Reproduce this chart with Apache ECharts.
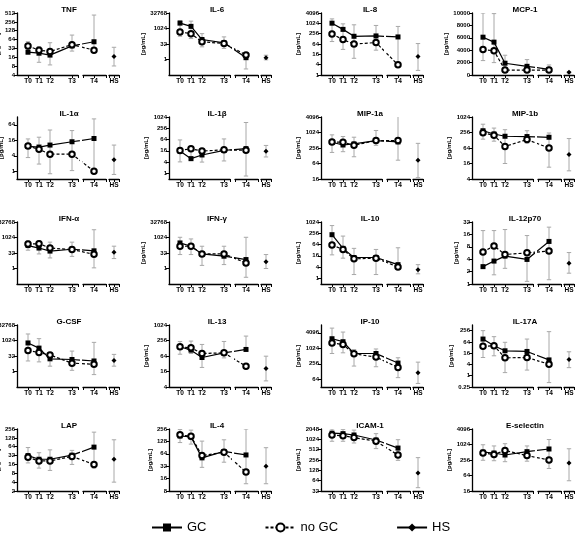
<!DOCTYPE html>
<html><head><meta charset="utf-8">
<script src="https://cdn.jsdelivr.net/npm/echarts@6/dist/echarts.min.js"></script>
<style>html,body{margin:0;padding:0;background:#fff}#c{width:576px;height:546px}</style>
</head><body><div id="c"></div>
<script>
// ---------- data ----------
const panelNames = ['TNF','IL-6','IL-8','MCP-1','IL-1\u03b1','IL-1\u03b2','MIP-1a','MIP-1b',
  'IFN-\u03b1','IFN-\u03b3','IL-10','IL-12p70','G-CSF','IL-13','IP-10','IL-17A',
  'LAP','IL-4','ICAM-1','E-selectin'];
const timeLabels = ['T0','T1','T2','T3','T4'];
const timeSpacing = [1, 2, 3, 5, 7];   // relative sampling positions on the time axis
const hsLabel = 'HS';

const gcValues = [
  [24,22,19,39,54], [3400,1650,87,42,1.5], [1045,455,180,189,165], [6100,5300,1900,1400,900],
  [9.3,8.7,10.4,14,18.7], [15.5,6.1,9.6,16.8,21], [427,335,368,497,440], [300,224,183,178,167],
  [169,97,49,74,52], [304,145,26,15.6,7.4], [215,40,13,13,5.4], [2.64,3.6,4.75,3.95,10.8],
  [590,187,17,14.6,10.5], [146,108,56,85,115], [2400,1840,640,640,272], [91,40,21.5,19.8,7],
  [32,24,24,33,62], [173,165,51,73,60], [1550,1500,1370,980,570], [520,478,400,540,685]
];
const noGcValues = [
  [39,28,25,43,28], [468,324,52,36,2.8], [245,116,63,78,3.9], [4100,3900,800,800,800],
  [9.5,7.1,4.6,4.6,1.0], [16.8,20.5,15.5,18,17], [440,427,326,497,497], [252,199,74,136,64],
  [239,256,97,69,24], [145,145,26,26,3.5], [60,35,11,12,4], [6,8.4,5.2,5.7,6.3],
  [110,69,40,6.5,5], [146,133,80,85,25.6], [1640,1420,620,463,185], [37,40,9,9.4,4.1],
  [28,21,21,30,16], [185,170,58,70,23], [1370,1300,1150,900,357], [478,420,600,380,256]
];
const hsValues = [17,1.5,11.8,450,2.8,15,86,36,37,4.4,2.9,3.2,12,21,115,7.4,24,32,107,194];

// error ranges: T0,T1,T2,T3,T4,HS
const errLow = [
  [20,10.8,8.8,26,28,8.1], [181,108,17,12,0.12,0.93], [89,31,9.4,28,4,1.85], [2324,2000,700,700,430,160],
  [3.4,1.9,0.8,1.06,1,0.75], [4.1,8,4,4.6,0.72,7.5], [172,184,117,326,86,18], [141,118,16,99,11.5,8.3],
  [60,26,10.6,15,1.15,9.2], [22.6,22.6,2,2.4,0.14,1], [18,12,1.6,1.6,4.4,1.75], [2.64,1.67,2.4,1.16,1.27,1.83],
  [10.5,8.6,3.3,1.3,0.5,3.3], [75,80,23,54,108,6.9], [640,680,208,196,74,44], [9.4,11.6,1.47,2,0.43,2.7],
  [18,12,10,16,12,4], [120,110,30,40,12,12], [900,900,800,550,250,40], [250,240,220,230,120,40]
];
const errHigh = [
  [54,37,50,91,436,35], [6000,5300,324,157,4,2.6], [1860,955,840,770,675,68], [10000,9900,3190,2486,1620,540],
  [18,21,40,38,108,10.4], [61,24,18,69,520,31], [830,715,672,1225,4350,388], [537,380,329,300,245,149],
  [478,478,362,362,5800,147], [1075,744,145,145,1075,22.6], [660,181,40,35,43,5.4], [19.8,19.8,21,15,24,5.8],
  [4400,1550,29,96,675,46], [235,243,180,235,380,63], [6200,4350,910,960,437,296], [256,122,61,91,226,19],
  [60,40,50,48,200,110], [250,240,130,140,256,90], [2048,2000,1900,1500,1000,300], [1000,900,1100,900,1600,700]
];

const yTickLabels = [
  [4,8,16,32,64,128,256,512], [1,32,1024,32768], [1,4,16,64,256,1024,4096], [0,2000,4000,6000,8000,10000],
  [1,4,16,64], [1,4,16,64,256,1024], [16,64,256,1024,4096], [4,16,64,256,1024],
  [1,32,1024,32768], [1,32,1024,32768], [1,4,16,64,256,1024], [1,2,4,8,16,32],
  [1,32,1024,32768], [4,16,64,256,1024], [64,256,1024,4096], [0.25,1,4,16,64,256],
  [2,4,8,16,32,64,128,256], [8,16,32,64,128,256], [32,64,128,256,512,1024,2048], [16,64,256,1024,4096]
];
const yExtent = [
  [4,512], [1/32,32768], [1,4096], [0,10000],
  [0.5,128], [0.5,1024], [16,4096], [4,1024],
  [1/32,32768], [1/32,32768], [0.5,1024], [1,32],
  [1/32,32768], [4,1024], [32,8192], [0.25,512],
  [2,256], [8,256], [32,2048], [16,4096]
];
const linearPanels = ['MCP-1'];

// ---------- layout ----------
const FONT = 'Liberation Sans';
const colAxisX = [17, 169, 321, 472];
const titleX = [64, 212, 365, 520];
const nameGaps = [11, 12, 15, 9];
const rowTop = [0, 104, 209, 312, 416];
const PLOT_TOP = 13, PLOT_H = 62;
const UNIT = 11;

const grids = [], xAxes = [], yAxes = [], series = [], titles = [];
const black = '#000';
const lbl = {fontFamily: FONT, fontWeight: 'bold', fontSize: 6, color: '#000'};

function errRender(params, api) {
  const x = api.value(0);
  const pLo = api.coord([x, api.value(1)]);
  const pHi = api.coord([x, api.value(2)]);
  const w = 2.2;
  const style = {stroke: '#a8a8a8', lineWidth: 1};
  return {type: 'group', children: [
    {type: 'line', shape: {x1: pLo[0], y1: pLo[1], x2: pHi[0], y2: pHi[1]}, style},
    {type: 'line', shape: {x1: pLo[0]-w, y1: pLo[1], x2: pLo[0]+w, y2: pLo[1]}, style},
    {type: 'line', shape: {x1: pHi[0]-w, y1: pHi[1], x2: pHi[0]+w, y2: pHi[1]}, style}
  ]};
}

panelNames.forEach((name, p) => {
  const col = p % 4, row = Math.floor(p / 4);
  const ax = colAxisX[col];
  const top = rowTop[row] + PLOT_TOP;
  const isLin = linearPanels.includes(name);
  const gA = grids.length;
  const g = {top, height: PLOT_H, outerBoundsMode: 'none', containLabel: false};
  grids.push(Object.assign({left: ax, width: 61}, g));
  grids.push(Object.assign({left: ax + 66, width: 23}, g));
  grids.push(Object.assign({left: ax + 92, width: 10}, g));
  titles.push({text: name, left: titleX[col], top: rowTop[row] + 1, textAlign: 'center',
    textStyle: {fontFamily: FONT, fontWeight: 'bold', fontSize: 8, color: '#000'}});

  const axLine = {show: true, onZero: false, lineStyle: {color: black, width: 1.3}};
  const tickStyle = {color: black, width: 1};
  const xDefs = [
    {min: 0, max: 61 / UNIT, ticks: timeSpacing.slice(0, 4).concat([61 / UNIT]), labels: timeSpacing.slice(0, 4)},
    {min: 6, max: 6 + 23 / UNIT, ticks: [6, timeSpacing[4], 6 + 23 / UNIT], labels: [timeSpacing[4]]},
    {min: -5 / UNIT, max: 5 / UNIT, ticks: [-5 / UNIT, 0, 5 / UNIT], labels: [0]}
  ];
  xDefs.forEach((d, k) => {
    xAxes.push({gridIndex: gA + k, type: 'value', min: d.min, max: d.max,
      axisLine: axLine,
      axisTick: {show: true, customValues: d.ticks, length: 3, lineStyle: tickStyle},
      axisLabel: Object.assign({customValues: d.labels, margin: 3,
        formatter: v => k === 2 ? hsLabel : timeLabels[timeSpacing.indexOf(v)]}, lbl, {fontSize: 6.5}),
      splitLine: {show: false}});
    const y = {gridIndex: gA + k, min: yExtent[p][0], max: yExtent[p][1], show: k === 0,
      splitLine: {show: false}};
    if (isLin) { y.type = 'value'; } else { y.type = 'log'; y.logBase = 2; }
    if (k === 0) {
      Object.assign(y, {
        name: '[pg/mL]', nameLocation: 'middle', nameGap: nameGaps[col], nameRotate: 90,
        nameTextStyle: {fontFamily: FONT, fontWeight: 'bold', fontSize: 6, color: '#000'},
        axisLine: {show: true, lineStyle: {color: black, width: 1.3}},
        axisTick: {show: true, customValues: yTickLabels[p], length: 3, lineStyle: tickStyle},
        axisLabel: Object.assign({customValues: yTickLabels[p], margin: 2, formatter: v => String(v)}, lbl)
      });
    }
    yAxes.push(y);
  });

  const gcStyle = {symbol: 'rect', symbolSize: 5, itemStyle: {color: black},
    lineStyle: {color: black, width: 1.2}};
  const ngStyle = {symbol: 'emptyCircle', symbolSize: 5.5, itemStyle: {color: black, borderWidth: 1.4},
    lineStyle: {color: black, width: 1.2, type: [3, 2]}};
  const mk = (arr, idx) => idx.map(i => [timeSpacing[i], arr[i]]);
  [[gcValues[p], 'GC', gcStyle], [noGcValues[p], 'no GC', ngStyle]].forEach(([arr, nm, st]) => {
    series.push(Object.assign({type: 'line', name: nm, xAxisIndex: gA, yAxisIndex: gA, clip: true,
      data: mk(arr, [0,1,2,3,4]), z: 3, silent: true}, st));
    series.push(Object.assign({type: 'line', name: nm, xAxisIndex: gA + 1, yAxisIndex: gA + 1, clip: true,
      data: mk(arr, [3,4]), z: 3, silent: true}, st));
  });
  series.push({type: 'line', name: 'HS', xAxisIndex: gA + 2, yAxisIndex: gA + 2, data: [[0, hsValues[p]]],
    symbol: 'diamond', symbolSize: 5, itemStyle: {color: black}, lineStyle: {color: black, width: 1.2}, z: 3});

  const eA = [0,1,2,3].map(i => [timeSpacing[i], errLow[p][i], errHigh[p][i]]);
  const eB = [[timeSpacing[4], errLow[p][4], errHigh[p][4]]];
  const eC = [[0, errLow[p][5], errHigh[p][5]]];
  [eA, eB, eC].forEach((d, k) => series.push({type: 'custom', xAxisIndex: gA + k, yAxisIndex: gA + k,
    renderItem: errRender, data: d, encode: {x: 0, y: [1, 2]}, clip: true, z: 1, silent: true}));
});

const chart = echarts.init(document.getElementById('c'), null, {renderer: 'canvas'});
chart.setOption({
  animation: false,
  backgroundColor: '#fff',
  title: titles,
  grid: grids, xAxis: xAxes, yAxis: yAxes, series,
  legend: {data: ['GC', 'no GC', 'HS'], left: 146, top: 516, itemWidth: 30, itemHeight: 10, itemGap: 58,
    textStyle: {fontFamily: FONT, fontSize: 13, color: '#000'}}
});
</script></body></html>
